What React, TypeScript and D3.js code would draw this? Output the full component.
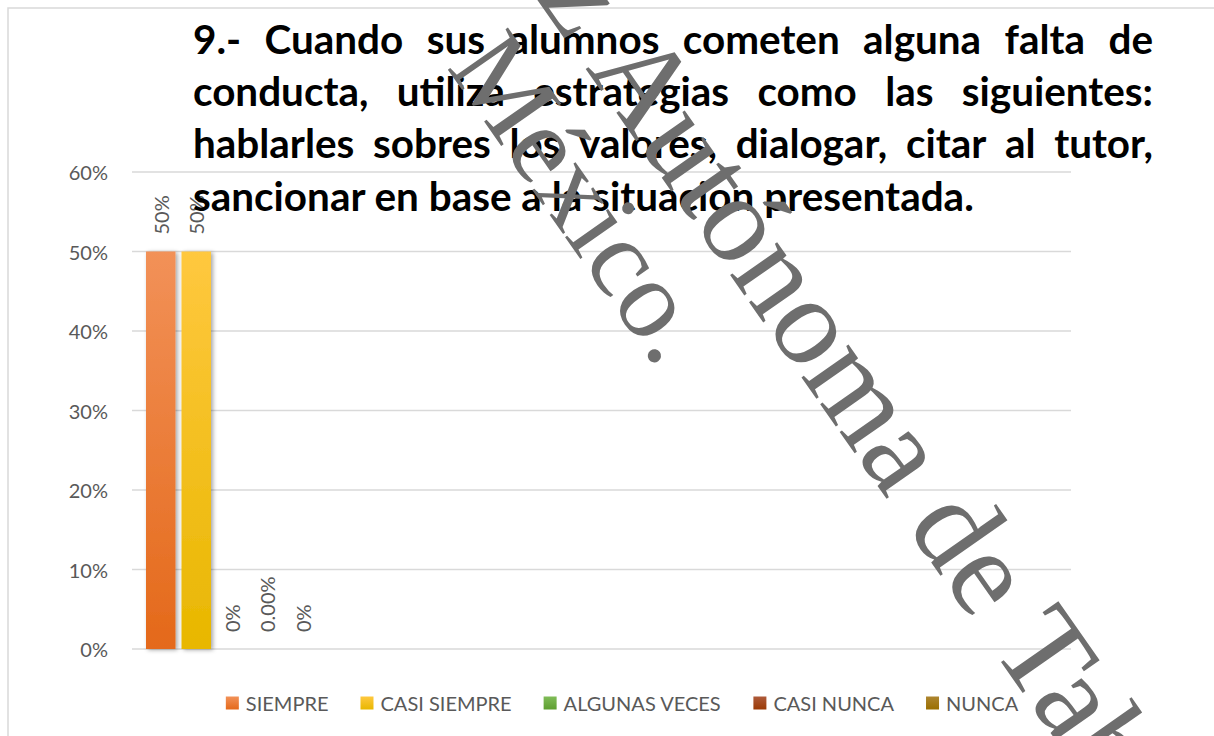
import React from "react";
import * as d3 from "d3";

const seriesNames = ["SIEMPRE", "CASI SIEMPRE", "ALGUNAS VECES", "CASI NUNCA", "NUNCA"];
const seriesValues = [0.5, 0.5, 0, 0, 0];
const labelTexts = ["50%", "50%", "0%", "0.00%", "0%"];
const colorTop = ["#F29158", "#FFC83F", "#80BC58", "#AE5A3A", "#AD8530"];
const colorBottom = ["#E4691A", "#E8B700", "#5E9E30", "#9B3A05", "#9A6F00"];
const yTicks = [0, 0.1, 0.2, 0.3, 0.4, 0.5, 0.6];
const titleLines = [
  "9.- Cuando sus alumnos cometen alguna falta de",
  "conducta, utiliza estrategias como las siguientes:",
  "hablarles sobres los valores, dialogar, citar al tutor,",
  "sancionar en base a la situacion presentada.",
];
const watermarkLine1Before = "Universidad Juárez";
const watermarkLine1After = "Autónoma de Tabasco.";
const watermarkLine2 = "México.";

const W = 1214;
const H = 736;

let canvasCtx: CanvasRenderingContext2D | null = null;
function measure(text: string, font: string): number {
  if (!canvasCtx) {
    const c = document.createElement("canvas");
    canvasCtx = c.getContext("2d");
  }
  canvasCtx!.font = font;
  return canvasCtx!.measureText(text).width;
}

export default function App() {
  const plotLeft = 132;
  const plotRight = 1071;
  const y = d3.scaleLinear().domain([0, 0.6]).range([649, 172]);
  const x = d3.scaleBand<string>().domain(seriesNames).range([146, 317.5]).paddingInner(0.169);
  const fmt = d3.format(".0%");

  // Title (justified)
  const titleLeft = 193;
  const titleRight = 1153;
  const lastTarget = 782;
  const baseSize = 40;
  const titleFamily = "Lato";
  const mLast = measure(titleLines[3], `bold ${baseSize}px ${titleFamily}`);
  const titleSize = baseSize * (lastTarget / mLast);
  const titleFont = `bold ${titleSize}px ${titleFamily}`;
  const baselines = [54, 106, 158, 211];

  const titleEls: React.ReactNode[] = [];
  titleLines.forEach((line, li) => {
    if (li === titleLines.length - 1) {
      titleEls.push(
        <text key={`t${li}`} x={titleLeft} y={baselines[li]} fontFamily={titleFamily} fontWeight="bold" fontSize={titleSize} fill="#000">
          {line}
        </text>
      );
      return;
    }
    const words = line.split(" ");
    const widths = words.map((w) => measure(w, titleFont));
    const total = d3.sum(widths);
    const gap = (titleRight - titleLeft - total) / (words.length - 1);
    let cx = titleLeft;
    words.forEach((w, wi) => {
      titleEls.push(
        <text key={`t${li}-${wi}`} x={cx} y={baselines[li]} fontFamily={titleFamily} fontWeight="bold" fontSize={titleSize} fill="#000">
          {w}
        </text>
      );
      cx += widths[wi] + gap;
    });
  });

  // Legend
  const legFont = "20px Lato";
  const legWidths = seriesNames.map((s) => measure(s, legFont));
  const marker = 13;
  const markerGap = 7;
  const itemGap = 32;
  const itemWidths = legWidths.map((w) => marker + markerGap + w);
  const legTotal = d3.sum(itemWidths) + itemGap * (seriesNames.length - 1);
  const legCenter = 622;
  let lx = legCenter - legTotal / 2;
  const legY = 703;
  const legendEls = seriesNames.map((s, i) => {
    const gx = lx;
    lx += itemWidths[i] + itemGap;
    return (
      <g key={s} transform={`translate(${gx},${legY})`}>
        <rect x={0} y={-marker / 2} width={marker} height={marker} fill={`url(#grad${i})`} />
        <text x={marker + markerGap} y={0} dominantBaseline="central" fontFamily="Lato" fontSize={20} fill="#595959">
          {s}
        </text>
      </g>
    );
  });

  // watermark geometry
  const wmAngle = 55;
  const wmSize1 = 125;
  const wmSize2 = 112;
  const wmFont1 = `${wmSize1}px "Liberation Serif"`;
  const p1 = [585, 68];
  const p2 = [446, 67];
  const spaceW = measure(" ", wmFont1);

  return (
    <svg width={W} height={H} style={{ position: "absolute", left: 0, top: 0, background: "#fff" }}>
      <defs>
        {seriesNames.map((s, i) => (
          <linearGradient key={s} id={`grad${i}`} x1="0" y1="0" x2="0" y2="1">
            <stop offset="0%" stopColor={colorTop[i]} />
            <stop offset="100%" stopColor={colorBottom[i]} />
          </linearGradient>
        ))}
        <filter id="shadow" x="-30%" y="-5%" width="160%" height="110%">
          <feDropShadow dx="2" dy="1" stdDeviation="2.2" floodColor="#000" floodOpacity="0.35" />
        </filter>
      </defs>
      <rect x={0} y={0} width={W} height={H} fill="#fff" />
      <rect x={8} y={8} width={1400} height={900} fill="#fff" stroke="#d9d9d9" strokeWidth={1.5} />

      {/* gridlines */}
      {yTicks.map((t) => (
        <line key={t} x1={plotLeft} x2={plotRight} y1={y(t)} y2={y(t)} stroke="#d9d9d9" strokeWidth={1.3} />
      ))}
      {/* y labels */}
      {yTicks.map((t) => (
        <text key={`l${t}`} x={108} y={y(t)} textAnchor="end" dominantBaseline="central" fontFamily="Lato" fontSize={20} fill="#595959">
          {fmt(t)}
        </text>
      ))}

      {/* bars */}
      {seriesNames.map((s, i) =>
        seriesValues[i] > 0 ? (
          <rect
            key={`b${s}`}
            x={x(s)}
            y={y(seriesValues[i])}
            width={x.bandwidth()}
            height={y(0) - y(seriesValues[i])}
            fill={`url(#grad${i})`}
            filter="url(#shadow)"
          />
        ) : null
      )}
      {/* data labels */}
      {seriesNames.map((s, i) => {
        const cx = (x(s) as number) + x.bandwidth() / 2;
        const cy = y(seriesValues[i]) - 17;
        return (
          <text
            key={`d${s}`}
            transform={`translate(${cx},${cy}) rotate(-90)`}
            x={0}
            y={0}
            dominantBaseline="central"
            fontFamily="Lato"
            fontSize={20}
            fill="#595959"
          >
            {labelTexts[i]}
          </text>
        );
      })}

      {titleEls}
      {legendEls}

      {/* watermark */}
      <g fill="#6e6e6e" fontFamily="Liberation Serif">
        <g transform={`translate(${p1[0]},${p1[1]}) rotate(${wmAngle})`} fontSize={wmSize1}>
          <text x={-spaceW} y={0} textAnchor="end">{watermarkLine1Before}</text>
          <text x={0} y={0}>{watermarkLine1After}</text>
        </g>
        <g transform={`translate(${p2[0]},${p2[1]}) rotate(${wmAngle})`} fontSize={wmSize2}>
          <text x={0} y={0}>{watermarkLine2}</text>
        </g>
      </g>
    </svg>
  );
}
